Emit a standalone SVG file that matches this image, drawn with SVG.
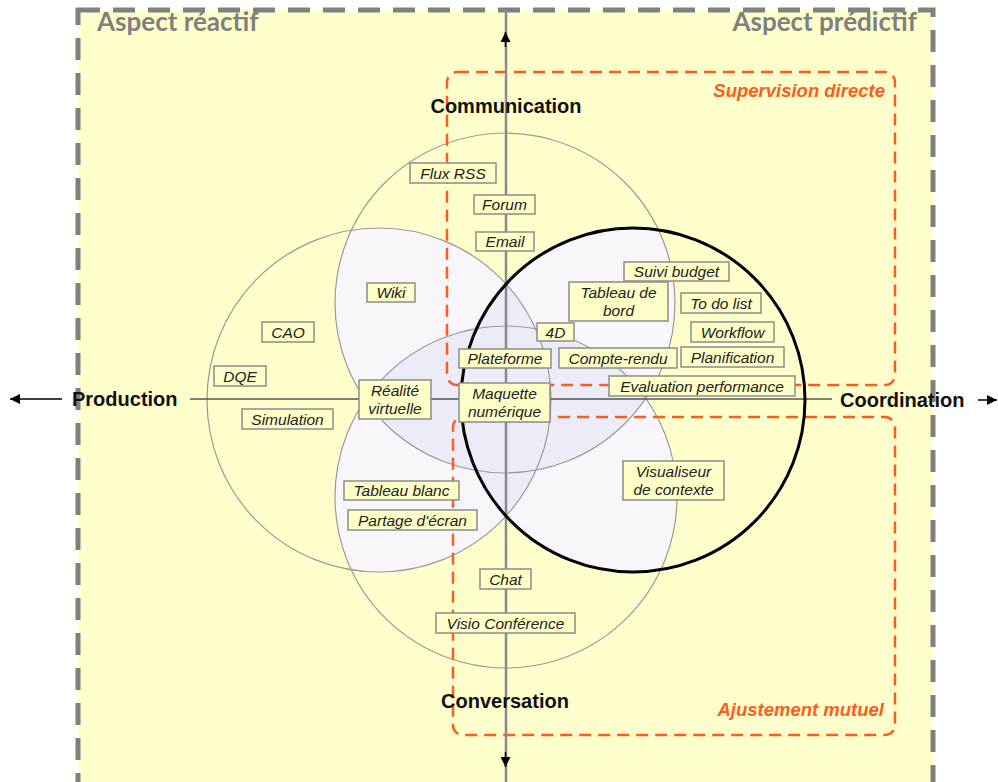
<svg xmlns="http://www.w3.org/2000/svg" width="998" height="782" viewBox="0 0 998 782">
<style>
.bx rect{fill:#ffffc8;stroke:#8c8c8c;stroke-width:1.5}
.bx text{font-family:"Liberation Sans",Arial,sans-serif;font-style:italic;font-size:15.5px;fill:#222;text-anchor:middle}
.circ{fill:none;stroke:#9a9a9a;stroke-width:1.2}
.ax{font-family:"Liberation Sans",Arial,sans-serif;font-weight:bold;font-size:20px;fill:#111}
.asp{font-family:Lato,"Liberation Sans",sans-serif;font-weight:bold;font-size:26px;fill:#808080}
.red{fill:none;stroke:#ff5b1f;stroke-width:2.5;stroke-dasharray:12 7}
.redt{font-family:"Liberation Sans",Arial,sans-serif;font-weight:bold;font-style:italic;font-size:18.5px;fill:#ff5b1f;text-anchor:end}
</style>
<defs>
<clipPath id="cP"><circle cx="379" cy="400" r="172"/></clipPath>
<clipPath id="cM"><circle cx="505" cy="303" r="170"/></clipPath>
<clipPath id="cV"><circle cx="506" cy="497" r="171"/></clipPath>
<clipPath id="cC"><circle cx="633" cy="400" r="172"/></clipPath>
<marker id="ah" viewBox="0 0 10 10" refX="10" refY="5" markerWidth="10" markerHeight="10" markerUnits="userSpaceOnUse" orient="auto"><path d="M0,0 L10,5 L0,10 z" fill="#000"/></marker>
<marker id="ah2" viewBox="0 0 10 10" refX="10" refY="5" markerWidth="14" markerHeight="10" markerUnits="userSpaceOnUse" orient="auto"><path d="M0,0 L10,5 L0,10 z" fill="#000"/></marker>
</defs>
<rect x="0" y="0" width="998" height="782" fill="#fff"/>
<rect x="78" y="10" width="855" height="780" fill="#ffffcc" stroke="#808080" stroke-width="5" stroke-dasharray="22 13"/>
<text class="asp" x="97" y="31">Aspect réactif</text>
<text class="asp" x="917" y="31" text-anchor="end">Aspect prédictif</text>
<g id="overlaps">
<g fill="#f8f6fa">
<circle cx="505" cy="303" r="170" clip-path="url(#cP)"/>
<circle cx="506" cy="497" r="171" clip-path="url(#cP)"/>
<circle cx="633" cy="400" r="172" clip-path="url(#cP)"/>
<circle cx="506" cy="497" r="171" clip-path="url(#cM)"/>
<circle cx="633" cy="400" r="172" clip-path="url(#cM)"/>
<circle cx="633" cy="400" r="172" clip-path="url(#cV)"/>
</g>
<g fill="#ecebf8">
<g clip-path="url(#cP)"><circle cx="506" cy="497" r="171" clip-path="url(#cM)"/></g>
<g clip-path="url(#cP)"><circle cx="633" cy="400" r="172" clip-path="url(#cM)"/></g>
<g clip-path="url(#cP)"><circle cx="633" cy="400" r="172" clip-path="url(#cV)"/></g>
<g clip-path="url(#cM)"><circle cx="633" cy="400" r="172" clip-path="url(#cV)"/></g>
</g>
</g>
<g id="circles">
<circle class="circ" cx="379" cy="400" r="172"/>
<circle class="circ" cx="505" cy="303" r="170"/>
<circle class="circ" cx="506" cy="497" r="171"/>
</g>
<g id="zones">
<rect class="red" x="447" y="72" width="448" height="313" rx="10"/>
<text class="redt" x="885" y="97">Supervision directe</text>
<rect class="red" x="453" y="417" width="442" height="318" rx="10"/>
<text class="redt" x="884" y="716">Ajustement mutuel</text>
</g>
<g id="connectors">
<line x1="506" y1="10" x2="506" y2="782" stroke="#8a8a8a" stroke-width="2.5"/>
<line x1="505.5" y1="47" x2="505.5" y2="32" stroke="#000" stroke-width="1.5" marker-end="url(#ah)"/>
<line x1="505.5" y1="752" x2="505.5" y2="767" stroke="#000" stroke-width="1.5" marker-end="url(#ah)"/>
<line x1="190" y1="399" x2="832" y2="399" stroke="#555" stroke-width="1.5"/>
<line x1="62" y1="399" x2="10" y2="399" stroke="#000" stroke-width="1.5" marker-end="url(#ah2)"/>
<line x1="978" y1="400" x2="997" y2="400" stroke="#000" stroke-width="1.5" marker-end="url(#ah)"/>
</g>
<circle id="coordination-circle" cx="633" cy="400" r="172" fill="none" stroke="#000" stroke-width="3"/>
<g id="axis-labels">
<text class="ax" x="506" y="113" text-anchor="middle">Communication</text>
<text class="ax" x="505" y="708" text-anchor="middle">Conversation</text>
<text class="ax" x="72" y="406">Production</text>
<text class="ax" x="840" y="407">Coordination</text>
</g>
<g id="n-fluxrss" class="bx"><rect x="410" y="163" width="86" height="20"/><text x="453" y="178.5">Flux RSS</text></g>
<g id="n-forum" class="bx"><rect x="474" y="195" width="61" height="19"/><text x="504.5" y="210">Forum</text></g>
<g id="n-email" class="bx"><rect x="476" y="232" width="58" height="19"/><text x="505" y="247">Email</text></g>
<g id="n-wiki" class="bx"><rect x="367" y="283" width="48" height="19"/><text x="391" y="298">Wiki</text></g>
<g id="n-cao" class="bx"><rect x="262" y="322" width="52" height="20"/><text x="288" y="337.5">CAO</text></g>
<g id="n-dqe" class="bx"><rect x="214" y="366" width="52" height="20"/><text x="240" y="381.5">DQE</text></g>
<g id="n-simulation" class="bx"><rect x="242" y="409" width="91" height="20"/><text x="287.5" y="424.5">Simulation</text></g>
<g id="n-realite" class="bx"><rect x="359" y="380" width="72" height="39"/><text x="395" y="396">Réalité</text><text x="395" y="414">virtuelle</text></g>
<g id="n-plateforme" class="bx"><rect x="459" y="349" width="92" height="19"/><text x="505" y="364">Plateforme</text></g>
<g id="n-maquette" class="bx"><rect x="459" y="383" width="91" height="39"/><text x="504.5" y="399">Maquette</text><text x="504.5" y="417">numérique</text></g>
<g id="n-4d" class="bx"><rect x="537" y="323" width="37" height="18"/><text x="555.5" y="337.5">4D</text></g>
<g id="n-tableaubord" class="bx"><rect x="569" y="282" width="99" height="39"/><text x="618.5" y="298">Tableau de</text><text x="618.5" y="316">bord</text></g>
<g id="n-suivibudget" class="bx"><rect x="624" y="262" width="105" height="19"/><text x="676.5" y="277">Suivi budget</text></g>
<g id="n-todolist" class="bx"><rect x="681" y="293" width="80" height="20"/><text x="721" y="308.5">To do list</text></g>
<g id="n-workflow" class="bx"><rect x="691" y="322" width="83" height="20"/><text x="732.5" y="337.5">Workflow</text></g>
<g id="n-compterendu" class="bx"><rect x="559" y="348" width="118" height="20"/><text x="618" y="363.5">Compte-rendu</text></g>
<g id="n-planification" class="bx"><rect x="681" y="347" width="103" height="20"/><text x="732.5" y="362.5">Planification</text></g>
<g id="n-evaluation" class="bx"><rect x="609" y="376" width="186" height="20"/><text x="702" y="391.5">Evaluation performance</text></g>
<g id="n-visualiseur" class="bx"><rect x="623" y="461" width="101" height="39"/><text x="673.5" y="477">Visualiseur</text><text x="673.5" y="495">de contexte</text></g>
<g id="n-tableaublanc" class="bx"><rect x="344" y="481" width="115" height="19"/><text x="401.5" y="496">Tableau blanc</text></g>
<g id="n-partage" class="bx"><rect x="348" y="510" width="129" height="20"/><text x="412.5" y="525.5">Partage d'écran</text></g>
<g id="n-chat" class="bx"><rect x="480" y="569" width="51" height="20"/><text x="505.5" y="584.5">Chat</text></g>
<g id="n-visio" class="bx"><rect x="436" y="613" width="139" height="20"/><text x="505.5" y="628.5">Visio Conférence</text></g>
</svg>
